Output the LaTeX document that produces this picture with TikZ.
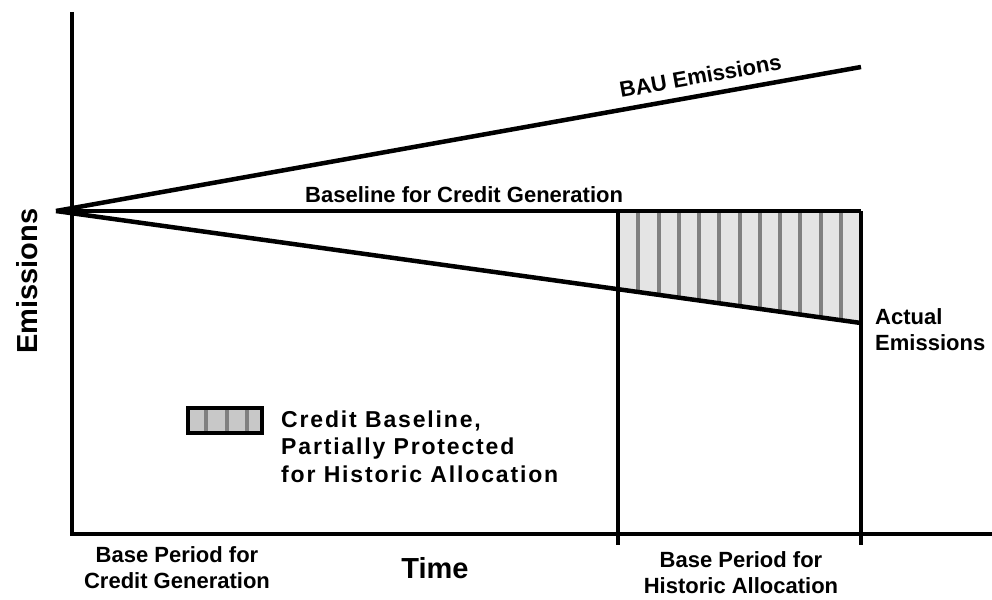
\documentclass[tikz,border=0pt]{standalone}
\usepackage{fontspec}
\setmainfont{Liberation Sans}
\newfontfamily\spacedfont{Liberation Sans}[LetterSpace=8]
\definecolor{regionfill}{HTML}{E4E4E4}
\definecolor{legfill}{HTML}{C8C8C8}
\definecolor{stripegray}{HTML}{808080}
\begin{document}
\begin{tikzpicture}[x=1pt,y=-1pt,
  axis/.style={line width=4pt},
  curve/.style={line width=4.5pt},
  stripe/.style={line width=4pt, draw=stripegray},
  lbl/.style={font=\bfseries\fontsize{22}{26}\selectfont, inner sep=0pt},
  biglbl/.style={font=\bfseries\fontsize{29}{34}\selectfont, inner sep=0pt},
  leglbl/.style={font=\spacedfont\bfseries\fontsize{23}{27.5}\selectfont, inner sep=0pt, align=left}]
\useasboundingbox (0,0) rectangle (992,599);
\coordinate (O) at (56,211);
\coordinate (bau) at (861,67);
\coordinate (blE) at (861,211);
\coordinate (blS) at (618,211);
\coordinate (actE) at (861,323);
\coordinate (actS) at (618,289);
\coordinate (ytop) at (72,12);
\coordinate (ybot) at (72,536);
\coordinate (xl) at (70,534);
\coordinate (xr) at (992,534);
\coordinate (t1) at (618,545);
\coordinate (t2) at (861,545);
% shaded region
\begin{scope}
\clip (blS) -- (blE) -- (actE) -- (actS) -- cycle;
\fill[regionfill] (blS) -- (blE) -- (actE) -- (actS) -- cycle;
\foreach \k in {1,...,11} \draw[stripe] (618+\k*20.25,200) -- ++(0,140);
\end{scope}
% axes and lines
\draw[axis] (ytop) -- (ybot);
\draw[axis] (xl) -- (xr);
\draw[curve] (O) -- (bau);
\draw[curve] (O) -- (blE);
\draw[curve] (O) -- (actE);
\draw[curve] (blS) -- (t1);
\draw[curve] (blE) -- (t2);
% legend
\coordinate (lgA) at (188,408);
\coordinate (lgB) at (262,433);
\fill[legfill] (lgA) rectangle (lgB);
\foreach \x in {206,227,247} \draw[stripe] (\x,408) -- (\x,433);
\draw[line width=3.5pt] (lgA) rectangle (lgB);
% labels
\node[lbl, anchor=base west, rotate=10.14] (baulbl) at (621,98) {BAU Emissions};
\node[lbl, anchor=base west] (bllbl) at (305,202) {Baseline for Credit Generation};
\node[lbl, anchor=base west, align=left] (actlbl) at (875,350) {Actual\\Emissions};
\node[leglbl, anchor=base west] (leglbl) at (281,482) {Credit Baseline,\\Partially Protected\\for Historic Allocation};
\node[lbl, anchor=base, align=center] (bp1) at (177,588) {Base Period for\\Credit Generation};
\node[lbl, anchor=base, align=center] (bp2) at (741,593) {Base Period for\\Historic Allocation};
\node[biglbl, anchor=base] (timelbl) at (435,578) {Time};
\node[biglbl, anchor=base, rotate=90] (emlbl) at (37,281) {Emissions};
\end{tikzpicture}
\end{document}
